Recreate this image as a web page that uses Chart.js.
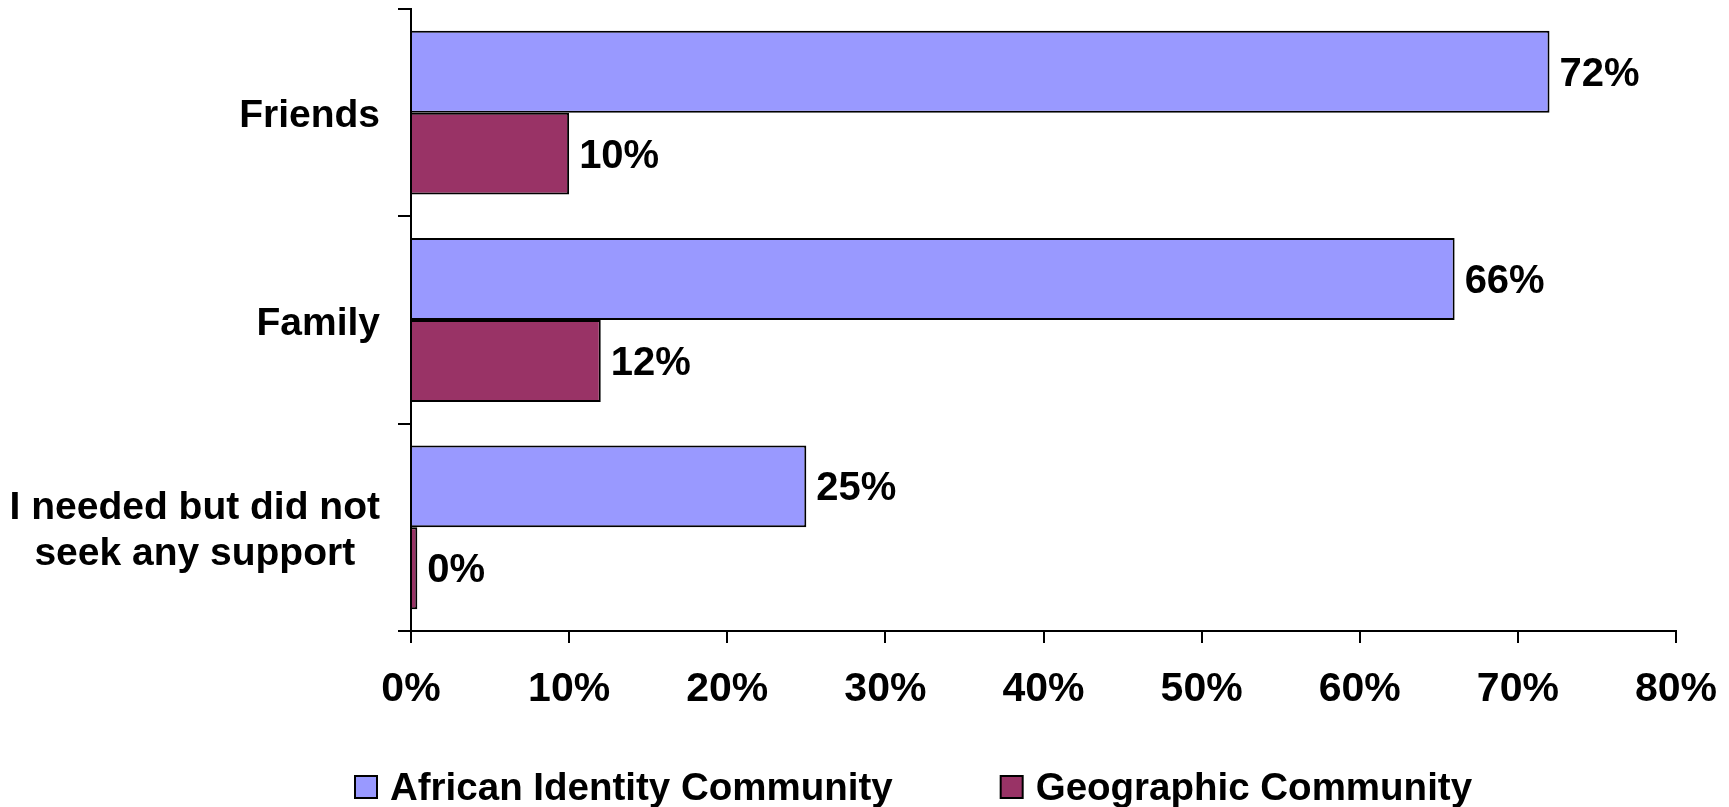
<!DOCTYPE html>
<html>
<head>
<meta charset="utf-8">
<script src="https://cdn.jsdelivr.net/npm/chart.js@4/dist/chart.umd.min.js"></script>
<style>
  body { margin: 0; background: #fff; }
  canvas { display: block; }
</style>
</head>
<body>
<canvas id="chart" width="1729" height="807"></canvas>
<script>
// categories (top to bottom), one entry per line of the label
const categories = [["Friends"], ["Family"], ["I needed but did not", "seek any support"]];
const seriesNames = ["African Identity Community", "Geographic Community"];
const africanValues = [72, 66, 25];
const geographicValues = [10, 12, 0.4];
const xTickMax = 80;
const xTickStep = 10;

const FAMILY = "'Liberation Sans', Arial, sans-serif";
const LINE_H = 46;
const colors = ["#9999FF", "#993366"];

// category labels: block right-aligned to the axis, lines centred inside it
const yLabelsPlugin = {
  id: "yLabels",
  afterDraw(chart) {
    const ctx = chart.ctx;
    const scale = chart.scales.y;
    const right = scale.right - 13 - 18;
    ctx.save();
    ctx.font = "bold 39px " + FAMILY;
    ctx.fillStyle = "#000";
    ctx.textAlign = "center";
    ctx.textBaseline = "middle";
    categories.forEach((lines, i) => {
      const widest = Math.max(...lines.map((l) => ctx.measureText(l).width));
      const cx = right - widest / 2;
      const y0 = scale.getPixelForTick(i) + 4 - ((lines.length - 1) * LINE_H) / 2;
      lines.forEach((l, j) => ctx.fillText(l, cx, y0 + j * LINE_H));
    });
    ctx.restore();
  },
};

// value labels to the right of each bar
const valueLabelsPlugin = {
  id: "valueLabels",
  afterDatasetsDraw(chart) {
    const ctx = chart.ctx;
    ctx.save();
    ctx.font = "bold 40px " + FAMILY;
    ctx.fillStyle = "#000";
    ctx.textAlign = "left";
    ctx.textBaseline = "middle";
    chart.data.datasets.forEach((ds, i) => {
      chart.getDatasetMeta(i).data.forEach((bar, j) => {
        ctx.fillText(Math.round(ds.data[j]) + "%", bar.x + 10, bar.y + 3);
      });
    });
    ctx.restore();
  },
};

// legend along the bottom
const legendPlugin = {
  id: "bottomLegend",
  afterDraw(chart) {
    const ctx = chart.ctx;
    let x = 355;
    const y = 787;
    ctx.save();
    ctx.font = "bold 38.5px " + FAMILY;
    ctx.textAlign = "left";
    ctx.textBaseline = "middle";
    chart.data.datasets.forEach((ds) => {
      ctx.fillStyle = ds.backgroundColor;
      ctx.fillRect(x, y - 11, 22, 22);
      ctx.strokeStyle = "#000";
      ctx.lineWidth = 2;
      ctx.strokeRect(x, y - 11, 22, 22);
      ctx.fillStyle = "#000";
      ctx.fillText(ds.label, x + 35, y + 2);
      x += 35 + ctx.measureText(ds.label).width + 108;
    });
    ctx.restore();
  },
};

new Chart(document.getElementById("chart"), {
  type: "bar",
  data: {
    labels: categories,
    datasets: [
      {
        label: seriesNames[0],
        data: africanValues,
        backgroundColor: colors[0],
        borderColor: "#000",
        borderWidth: 2,
      },
      {
        label: seriesNames[1],
        data: geographicValues,
        backgroundColor: colors[1],
        borderColor: "#000",
        borderWidth: 2,
      },
    ],
  },
  options: {
    indexAxis: "y",
    responsive: false,
    animation: false,
    layout: { padding: { left: 0, right: 53, top: 9, bottom: 86 } },
    datasets: { bar: { barPercentage: 1, categoryPercentage: 0.79 } },
    plugins: {
      legend: { display: false },
      tooltip: { enabled: false },
    },
    scales: {
      x: {
        min: 0,
        max: xTickMax,
        afterFit: (scale) => {
          scale.height = 90;
          scale.paddingLeft = 0;
          scale.paddingRight = 0;
        },
        border: { display: true, color: "#000", width: 2 },
        grid: { drawOnChartArea: false, tickLength: 12, color: "#000", lineWidth: 2 },
        ticks: {
          stepSize: xTickStep,
          color: "#000",
          padding: 22,
          maxRotation: 0,
          font: { family: FAMILY, size: 41, weight: "bold" },
          callback: (v) => v + "%",
        },
      },
      y: {
        afterFit: (scale) => { scale.width = 411; },
        border: { display: true, color: "#000", width: 2 },
        grid: { drawOnChartArea: false, tickLength: 13, color: "#000", lineWidth: 2 },
        ticks: { display: false },
      },
    },
  },
  plugins: [yLabelsPlugin, valueLabelsPlugin, legendPlugin],
});
</script>
</body>
</html>
